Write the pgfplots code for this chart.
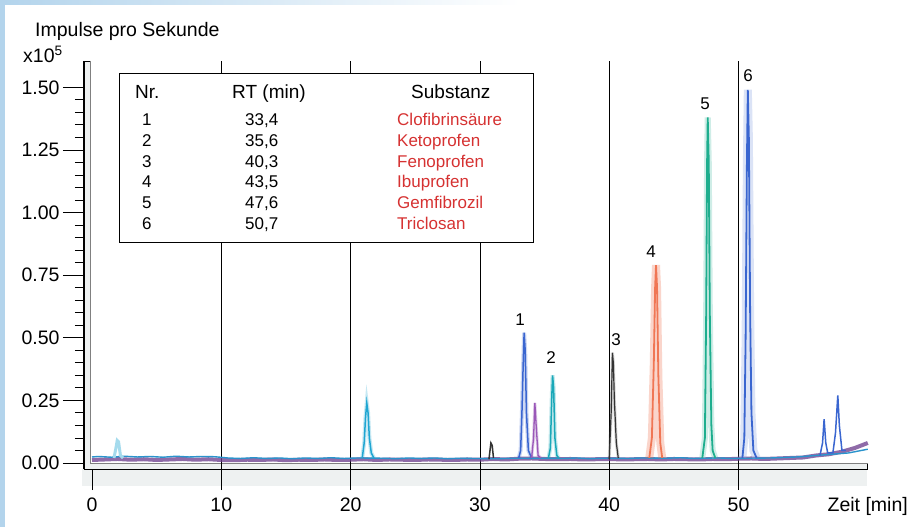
\documentclass[border=0pt]{standalone}
\usepackage{pgfplots}
\pgfplotsset{compat=1.18}
\usepackage{fontspec}
\setmainfont{Liberation Sans}

\definecolor{bluebg}{HTML}{B3D4EC}
\definecolor{framegray}{HTML}{EEF1F1}
\definecolor{basepurple}{HTML}{6A3A8C}
\definecolor{basecyan}{HTML}{2A93CC}
\definecolor{pkcyan}{HTML}{1FA6D2}
\definecolor{pkteal}{HTML}{1AA8B8}
\definecolor{pkblue}{HTML}{3A66D0}
\definecolor{pkpurple}{HTML}{9A58B8}
\definecolor{pkblack}{HTML}{333333}
\definecolor{pkorange}{HTML}{F07654}
\definecolor{pkgreen}{HTML}{1EAE8E}
\definecolor{tabred}{HTML}{D63232}

\begin{document}
\begin{tikzpicture}
\useasboundingbox (0pt,0pt) rectangle (909pt,527pt);
\begin{scope}[x=1pt,y=1pt]
\fill[white] (0,0) rectangle (909,527);
\fill[bluebg] (0,0) rectangle (5,527);
\shade[left color=bluebg, right color=white] (0,522) rectangle (520,527);
\fill[framegray] (82,41) rectangle (867,58);
\end{scope}

\begin{axis}[
    at={(84pt,58pt)}, anchor=south west,
    scale only axis, width=783.8pt, height=408pt,
    xmin=-0.62, xmax=60, ymin=-0.024, ymax=1.605,
    axis background/.style={fill=framegray},
    axis line style={black, line width=0.8pt},
    xtick={0,10,20,30,40,50},
    ytick={0,0.25,0.5,0.75,1,1.25,1.5},
    minor y tick num=4,
    tick align=outside, xtick pos=bottom, ytick pos=left,
    major tick length=21pt, minor tick length=9pt,
    tick style={black, line width=0.8pt},
    ticklabel style={font=\fontsize{19.5}{22}\selectfont},
    xticklabel style={yshift=-4pt},
    /pgf/number format/assume math mode=true,
    yticklabel style={/pgf/number format/.cd, fixed, fixed zerofill, precision=2},
    clip=false,
]

% Innenfeld
\fill[white] (axis cs:-0.15,0) rectangle (axis cs:60,1.605);
\draw[gray, line width=0.6pt] (axis cs:-0.15,1.605) -- (axis cs:-0.15,0) -- (axis cs:60,0);
\pgfplotsinvokeforeach{10,20,30,40,50}{
  \draw[black, line width=0.8pt] (axis cs:#1,-0.024) -- (axis cs:#1,1.605);
}

% --- Grundlinie ---
\addplot[basepurple, line width=4pt, opacity=0.75] coordinates {
(0,0.012) (1,0.014) (2,0.016) (3,0.013) (4,0.015) (5,0.012) (6,0.014) (7,0.016)
(8,0.013) (9,0.015) (10,0.012) (11,0.011) (12,0.013) (13,0.012) (14,0.014) (15,0.011)
(16,0.013) (17,0.012) (18,0.014) (19,0.012) (20,0.013) (21,0.015) (22,0.012) (23,0.014)
(24,0.013) (25,0.012) (26,0.014) (27,0.013) (28,0.012) (29,0.014) (30,0.013) (31,0.016)
(32,0.014) (33,0.017) (34,0.018) (35,0.016) (36,0.015) (37,0.016) (38,0.014) (39,0.015)
(40,0.016) (41,0.014) (42,0.015) (43,0.016) (44,0.014) (45,0.016) (46,0.015) (47,0.014)
(48,0.016) (49,0.015) (50,0.017) (51,0.018) (52,0.016) (53,0.018) (54,0.02) (55,0.022)
(56,0.03) (57,0.035) (58,0.045) (59,0.06) (60,0.08)
};
\addplot[basecyan, line width=1.4pt] coordinates {
(0,0.024) (0.5,0.026) (1.5,0.023) (2.5,0.027) (3.5,0.024) (4.5,0.026) (5.5,0.023) (6.5,0.027)
(7.5,0.024) (8.5,0.026) (9.5,0.025) (10.5,0.02) (11.5,0.018) (12.5,0.021) (13.5,0.018)
(14.5,0.02) (15.5,0.017) (16.5,0.02) (17.5,0.018) (18.5,0.021) (19.5,0.018) (20.5,0.02)
(22.5,0.019) (23.5,0.017) (24.5,0.02) (25.5,0.018) (26.5,0.02) (27.5,0.017) (28.5,0.019)
(29.5,0.018) (31.5,0.017) (32.5,0.019) (36.5,0.018) (37.5,0.02) (38.5,0.017) (39.5,0.019)
(41.5,0.018) (42.5,0.02) (44.5,0.019) (45.5,0.021) (46.5,0.018) (48.5,0.02) (49.5,0.018)
(52.5,0.02) (53.5,0.022) (54.5,0.024) (55.5,0.028) (58.5,0.04) (59.5,0.05) (60,0.055)
};

% --- Peaks ---
\addplot[pkcyan!40, line width=3pt] coordinates {
(1.7,0.02) (1.85,0.06) (1.95,0.09) (2.05,0.085) (2.2,0.03) (2.4,0.02)};
\addplot[pkcyan, line width=4pt, opacity=0.25] coordinates {
(20.9,0.02) (21.05,0.08) (21.15,0.18) (21.25,0.24) (21.35,0.2) (21.45,0.1) (21.6,0.04) (21.8,0.02)};
\addplot[pkcyan, line width=1.5pt] coordinates {
(20.9,0.02) (21.05,0.08) (21.15,0.18) (21.25,0.24) (21.35,0.2) (21.45,0.1) (21.6,0.04) (21.8,0.02)};

\addplot[pkblack, line width=1.5pt] coordinates {
(30.7,0.015) (30.85,0.08) (30.95,0.07) (31.05,0.02)};

\addplot[pkblue, line width=4pt, opacity=0.25] coordinates {
(33.0,0.02) (33.15,0.05) (33.25,0.2) (33.35,0.4) (33.42,0.52) (33.5,0.45) (33.6,0.2) (33.75,0.05) (34.0,0.02)};
\addplot[pkblue, line width=1.5pt] coordinates {
(33.0,0.02) (33.15,0.05) (33.25,0.2) (33.35,0.4) (33.42,0.52) (33.5,0.45) (33.6,0.2) (33.75,0.05) (34.0,0.02)};

\addplot[pkpurple, line width=3pt, opacity=0.3] coordinates {
(34.0,0.02) (34.15,0.1) (34.25,0.24) (34.35,0.15) (34.5,0.03) (34.7,0.02)};
\addplot[pkpurple, line width=1.3pt] coordinates {
(34.0,0.02) (34.15,0.1) (34.25,0.24) (34.35,0.15) (34.5,0.03) (34.7,0.02)};

\addplot[pkteal, line width=4pt, opacity=0.25] coordinates {
(35.3,0.02) (35.45,0.06) (35.55,0.25) (35.62,0.35) (35.7,0.3) (35.8,0.1) (35.95,0.03) (36.1,0.02)};
\addplot[pkteal, line width=1.5pt] coordinates {
(35.3,0.02) (35.45,0.06) (35.55,0.25) (35.62,0.35) (35.7,0.3) (35.8,0.1) (35.95,0.03) (36.1,0.02)};

\addplot[pkblack, line width=3pt, opacity=0.2] coordinates {
(40.0,0.015) (40.15,0.2) (40.25,0.44) (40.32,0.4) (40.4,0.25) (40.55,0.08) (40.7,0.02)};
\addplot[pkblack, line width=1.2pt] coordinates {
(40.0,0.015) (40.15,0.2) (40.25,0.44) (40.32,0.4) (40.4,0.25) (40.55,0.08) (40.7,0.02)};

\addplot[pkorange, line width=8pt, opacity=0.3] coordinates {
(43.1,0.02) (43.3,0.1) (43.45,0.4) (43.55,0.7) (43.62,0.79) (43.7,0.7) (43.8,0.35) (43.95,0.08) (44.1,0.02)};
\addplot[pkorange, line width=1.8pt] coordinates {
(43.1,0.02) (43.3,0.1) (43.45,0.4) (43.55,0.7) (43.62,0.79) (43.7,0.7) (43.8,0.35) (43.95,0.08) (44.1,0.02)};

\addplot[pkgreen!60, line width=6pt, opacity=0.35] coordinates {
(47.2,0.02) (47.4,0.1) (47.5,0.6) (47.57,1.2) (47.62,1.38) (47.7,1.2) (47.78,0.6) (47.9,0.15) (48.0,0.05) (48.2,0.02)};
\addplot[pkgreen, line width=1.8pt] coordinates {
(47.2,0.02) (47.4,0.1) (47.5,0.6) (47.57,1.2) (47.62,1.38) (47.7,1.2) (47.78,0.6) (47.9,0.15) (48.0,0.05) (48.2,0.02)};

\addplot[pkblue!60, line width=8pt, opacity=0.3] coordinates {
(50.3,0.02) (50.45,0.1) (50.55,0.5) (50.65,1.2) (50.72,1.49) (50.8,1.3) (50.9,0.6) (51.0,0.2) (51.15,0.05) (51.4,0.02)};
\addplot[pkblue, line width=1.8pt] coordinates {
(50.3,0.02) (50.45,0.1) (50.55,0.5) (50.65,1.2) (50.72,1.49) (50.8,1.3) (50.9,0.6) (51.0,0.2) (51.15,0.05) (51.4,0.02)};

\addplot[pkblue, line width=1.5pt] coordinates {
(56.3,0.03) (56.5,0.08) (56.62,0.175) (56.75,0.08) (56.9,0.04) (57.3,0.04) (57.5,0.12)
(57.68,0.27) (57.8,0.15) (58.0,0.05) (58.3,0.05)};

% linke Achse kraeftig
\draw[black, line width=2pt] (rel axis cs:0,0) -- (rel axis cs:0,1);
\end{axis}

\begin{scope}[x=1pt,y=1pt]
% Beschriftungen
\node[anchor=base west, font=\fontsize{19.5}{22}\selectfont, inner sep=0pt] at (35,490) {Impulse pro Sekunde};
\node[anchor=base west, font=\fontsize{19.5}{22}\selectfont, inner sep=0pt] at (23,464) {x10\textsuperscript{5}};
\node[anchor=base east, font=\fontsize{19.5}{22}\selectfont, inner sep=0pt] at (908,16) {Zeit [min]};

% Peak-Nummern
\begin{scope}[every node/.style={font=\fontsize{17}{19}\selectfont, inner sep=0pt}]
\node at (520,207) {1};
\node at (551,169) {2};
\node at (616,187) {3};
\node at (651,275) {4};
\node at (705,423) {5};
\node at (748,451) {6};
\end{scope}

% Tabelle
\draw[black, fill=white, line width=0.8pt] (119,454) rectangle (533,285);
\begin{scope}[every node/.style={anchor=base west, inner sep=0pt, font=\fontsize{17}{20}\selectfont}]
\node[font=\fontsize{19}{22}\selectfont] at (135,428) {Nr.};
\node[font=\fontsize{19}{22}\selectfont] at (232,428) {RT (min)};
\node[font=\fontsize{19}{22}\selectfont] at (411,428) {Substanz};
\node at (142,401) {1}; \node at (245,401) {33,4}; \node[text=tabred] at (397,401) {Clofibrinsäure};
\node at (142,380) {2}; \node at (245,380) {35,6}; \node[text=tabred] at (397,380) {Ketoprofen};
\node at (142,359) {3}; \node at (245,359) {40,3}; \node[text=tabred] at (397,359) {Fenoprofen};
\node at (142,339) {4}; \node at (245,339) {43,5}; \node[text=tabred] at (397,339) {Ibuprofen};
\node at (142,318) {5}; \node at (245,318) {47,6}; \node[text=tabred] at (397,318) {Gemfibrozil};
\node at (142,297) {6}; \node at (245,297) {50,7}; \node[text=tabred] at (397,297) {Triclosan};
\end{scope}
\end{scope}
\end{tikzpicture}
\end{document}
